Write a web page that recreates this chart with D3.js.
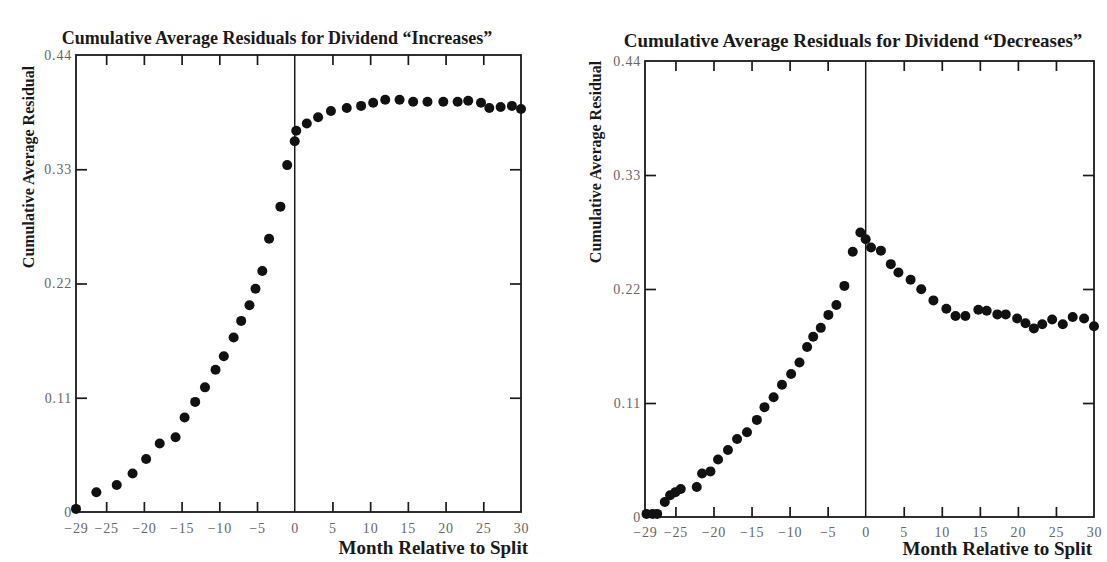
<!DOCTYPE html>
<html>
<head>
<meta charset="utf-8">
<script src="https://cdn.jsdelivr.net/npm/d3@7"></script>
<style>
  html, body { margin: 0; padding: 0; background: #ffffff; }
  svg { display: block; }
</style>
</head>
<body>
<svg id="chart" width="1107" height="562"></svg>
<script>
// ---- Data ----
const titles = ['Cumulative Average Residuals for Dividend \u201CIncreases\u201D',
                'Cumulative Average Residuals for Dividend \u201CDecreases\u201D'];
const xAxisTitle = 'Month Relative to Split';
const yAxisTitle = 'Cumulative Average Residual';
const xTickLabels = [-29, -25, -20, -15, -10, -5, 0, 5, 10, 15, 20, 25, 30];
const xTickMarks = [-25, -20, -15, -10, -5, 5, 10, 15, 20, 25];
const yTickLabels = [0, 0.11, 0.22, 0.33, 0.44];
const yTickMarks = [0.11, 0.22, 0.33];

const incMonths = [-29, -26.3, -23.6, -21.5, -19.7, -17.9, -15.8, -14.6, -13.2, -11.9,
  -10.5, -9.4, -8.1, -7.1, -6.0, -5.2, -4.3, -3.4, -1.9, -1.0,
  0, 0.2, 1.6, 3.1, 4.8, 6.9, 8.8, 10.4, 12.0, 13.9,
  15.7, 17.6, 19.7, 21.6, 23.0, 24.7, 25.8, 27.3, 28.8, 30];
const incValues = [0.003, 0.019, 0.026, 0.037, 0.051, 0.066, 0.072, 0.091, 0.106, 0.120,
  0.137, 0.150, 0.168, 0.184, 0.199, 0.215, 0.232, 0.263, 0.294, 0.334,
  0.357, 0.367, 0.374, 0.380, 0.386, 0.389, 0.391, 0.394, 0.397, 0.397,
  0.395, 0.395, 0.395, 0.395, 0.396, 0.394, 0.389, 0.390, 0.391, 0.388];

const decMonths = [-28.8, -28.0, -27.4, -26.4, -25.7, -25.0, -24.3, -22.2, -21.5, -20.4,
  -19.4, -18.1, -16.9, -15.6, -14.3, -13.3, -12.1, -11.0, -9.8, -8.7,
  -7.7, -6.9, -5.9, -4.9, -3.85, -2.8, -1.7, -0.7, 0, 0.7,
  2.0, 3.3, 4.3, 5.9, 7.3, 8.9, 10.6, 11.8, 13.1, 14.8,
  15.9, 17.3, 18.4, 19.9, 21.0, 22.1, 23.2, 24.5, 25.9, 27.2,
  28.7, 30];
const decValues = [0.003, 0.003, 0.003, 0.0145, 0.021, 0.024, 0.027, 0.029, 0.042, 0.044,
  0.0555, 0.0646, 0.0753, 0.0817, 0.0937, 0.106, 0.1156, 0.1276, 0.138, 0.149,
  0.164, 0.174, 0.1825, 0.195, 0.2045, 0.223, 0.256, 0.2745, 0.268, 0.260,
  0.257, 0.244, 0.236, 0.229, 0.2197, 0.209, 0.201, 0.194, 0.194, 0.200,
  0.199, 0.1955, 0.1955, 0.1916, 0.187, 0.182, 0.186, 0.1906, 0.186, 0.193,
  0.1916, 0.184];

// ---- Layout ----
const panels = [
  { title: titles[0], months: incMonths, values: incValues,
    left: 76, right: 521, top: 55, bottom: 512,
    titleX: 277, titleY: 44, titleSize: 18,
    yTitleX: 28, yTitleY: 167, xTitleEnd: 528, xTitleY: 554, xLabPad: 11 },
  { title: titles[1], months: decMonths, values: decValues,
    left: 645, right: 1094, top: 61, bottom: 517,
    titleX: 853, titleY: 47, titleSize: 19,
    yTitleX: 595, yTitleY: 162, xTitleEnd: 1092, xTitleY: 555, xLabPad: 10 }
];

const svg = d3.select('#chart');
svg.append('rect').attr('width', 1107).attr('height', 562).attr('fill', '#ffffff');

const serif = "'Liberation Serif', 'DejaVu Serif', serif";
const ink = '#1a1a1a';
const yFmt = d => d === 0 ? '0' : d3.format('.2f')(d);

panels.forEach(p => {
  const x = d3.scaleLinear().domain([-29, 30]).range([p.left, p.right]);
  const y = d3.scaleLinear().domain([0, 0.44]).range([p.bottom, p.top]);
  const g = svg.append('g');

  // Title
  g.append('text')
    .attr('x', p.titleX).attr('y', p.titleY)
    .attr('text-anchor', 'middle')
    .attr('font-family', serif).attr('font-weight', 'bold')
    .attr('font-size', p.titleSize).attr('fill', ink)
    .text(p.title);

  // Frame
  g.append('rect')
    .attr('x', p.left).attr('y', p.top)
    .attr('width', p.right - p.left).attr('height', p.bottom - p.top)
    .attr('fill', 'none').attr('stroke', ink).attr('stroke-width', 1.8);

  // Zero month line
  g.append('line')
    .attr('x1', x(0)).attr('x2', x(0))
    .attr('y1', p.top).attr('y2', p.bottom)
    .attr('stroke', ink).attr('stroke-width', 1.5);

  const styleAxis = sel => {
    sel.select('.domain').remove();
    sel.selectAll('.tick line').attr('stroke', ink).attr('stroke-width', 1.7);
    sel.selectAll('.tick text').attr('font-family', serif).attr('font-size', 14)
      .attr('fill', '#666').attr('letter-spacing', 0.8);
  };

  // Bottom tick marks (inward) and labels
  g.append('g').attr('transform', `translate(0,${p.bottom})`)
    .call(d3.axisBottom(x).tickValues(xTickMarks).tickSizeInner(-10).tickSizeOuter(0).tickFormat(''))
    .call(styleAxis);
  g.append('g').attr('transform', `translate(0,${p.bottom})`)
    .call(d3.axisBottom(x).tickValues(xTickLabels).tickSize(0).tickPadding(p.xLabPad))
    .call(styleAxis);
  // Top tick marks (inward)
  g.append('g').attr('transform', `translate(0,${p.top})`)
    .call(d3.axisTop(x).tickValues(xTickMarks).tickSizeInner(-10).tickSizeOuter(0).tickFormat(''))
    .call(styleAxis);

  // Left tick marks and labels
  g.append('g').attr('transform', `translate(${p.left},0)`)
    .call(d3.axisLeft(y).tickValues(yTickMarks).tickSizeInner(-11).tickSizeOuter(0).tickFormat(''))
    .call(styleAxis);
  g.append('g').attr('transform', `translate(${p.left},0)`)
    .call(d3.axisLeft(y).tickValues(yTickLabels).tickSize(0).tickPadding(4).tickFormat(yFmt))
    .call(styleAxis);
  // Right tick marks (inward)
  g.append('g').attr('transform', `translate(${p.right},0)`)
    .call(d3.axisRight(y).tickValues(yTickMarks).tickSizeInner(-11).tickSizeOuter(0).tickFormat(''))
    .call(styleAxis);

  // Axis titles
  g.append('text')
    .attr('x', p.xTitleEnd).attr('y', p.xTitleY)
    .attr('text-anchor', 'end')
    .attr('font-family', serif).attr('font-weight', 'bold')
    .attr('font-size', 19).attr('fill', ink)
    .text(xAxisTitle);
  g.append('text')
    .attr('transform', `translate(${p.yTitleX},${p.yTitleY}) rotate(-90)`)
    .attr('text-anchor', 'middle').attr('dy', '0.35em')
    .attr('font-family', serif).attr('font-weight', 'bold')
    .attr('font-size', 16).attr('fill', ink)
    .text(yAxisTitle);

  // Points
  const pts = p.months.map((m, i) => ({ m, v: p.values[i] }));
  g.append('g').selectAll('circle').data(pts).join('circle')
    .attr('cx', d => x(d.m)).attr('cy', d => y(d.v))
    .attr('r', 5).attr('fill', '#111');
});
</script>
</body>
</html>
